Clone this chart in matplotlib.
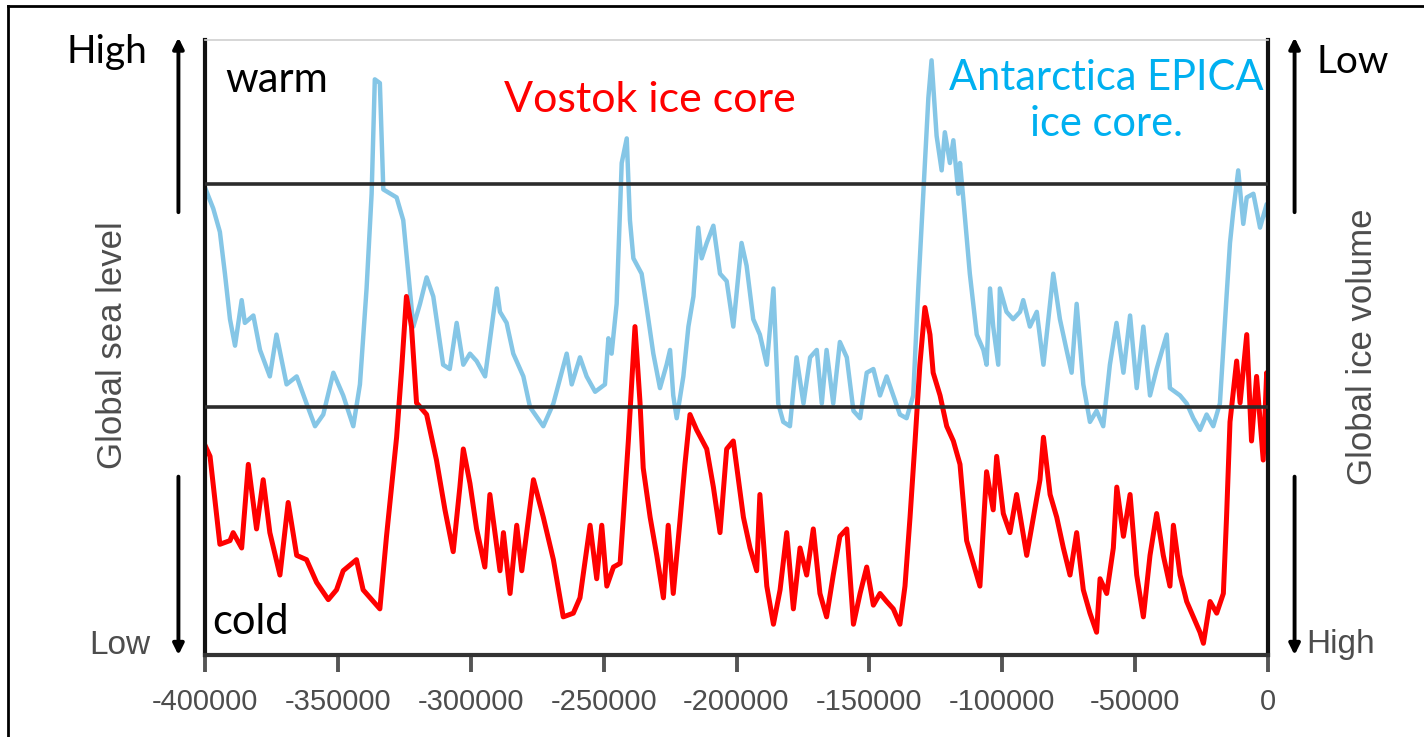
import matplotlib
matplotlib.use("Agg")
import matplotlib.pyplot as plt
from matplotlib.lines import Line2D

plt.rcParams['axes.unicode_minus'] = False

# EPICA (blue) - kyr before present, relative level (0 = axis bottom, 100 = top)
epica_kyr = [-400.0, -396.9, -394.4, -392.5, -390.6, -388.7, -386.2, -385.0, -381.8, -379.3,
             -375.6, -373.1, -369.3, -365.5, -361.8, -358.6, -355.5, -351.7, -348.0, -344.2,
             -341.7, -339.2, -337.3, -336.1, -334.2, -332.9, -327.9, -325.4, -321.6, -319.1,
             -316.6, -314.1, -310.4, -307.9, -305.3, -302.8, -300.3, -297.8, -294.6, -290.2,
             -289.0, -286.5, -284.0, -280.2, -277.7, -272.7, -268.9, -263.9, -262.0, -258.9,
             -256.4, -253.2, -249.5, -248.2, -247.0, -245.1, -243.2, -241.3, -240.1, -238.8,
             -235.7, -233.8, -231.3, -228.8, -226.3, -225.0, -223.8, -222.5, -220.0, -218.1,
             -216.2, -214.4, -213.1, -211.2, -208.7, -206.2, -203.7, -201.2, -198.1, -196.2,
             -193.7, -191.2, -188.6, -186.1, -184.3, -182.4, -179.9, -177.4, -174.8, -172.3,
             -169.8, -167.9, -166.1, -163.6, -161.1, -158.5, -156.0, -153.5, -151.0, -148.5,
             -146.0, -143.5, -141.0, -138.5, -136.0, -133.5, -131.6, -129.7, -127.8, -126.6,
             -124.7, -122.8, -121.6, -119.7, -118.4, -116.5, -115.9, -114.7, -112.2, -109.6,
             -107.1, -105.9, -104.6, -103.4, -101.5, -100.9, -98.4, -95.9, -93.3, -92.1,
             -89.6, -87.0, -84.5, -80.8, -78.3, -75.8, -73.9, -72.0, -69.5, -67.0,
             -64.5, -62.0, -59.5, -57.0, -54.4, -51.9, -49.4, -46.9, -44.4, -41.9,
             -38.1, -36.9, -33.1, -30.6, -28.1, -25.6, -23.1, -20.6, -18.1, -15.6,
             -14.3, -13.1, -11.2, -9.3, -8.0, -5.5, -3.0, -0.5, 0.0]
epica_val = [76.0, 72.6, 68.8, 62.0, 54.6, 50.3, 57.7, 54.0, 55.2, 49.6,
             45.3, 52.1, 44.0, 45.3, 40.9, 37.2, 39.1, 45.9, 42.2, 37.2,
             44.0, 59.6, 75.0, 93.6, 93.0, 75.7, 74.4, 70.7, 53.4, 57.1,
             61.4, 58.3, 47.2, 46.5, 54.0, 47.2, 49.0, 47.8, 45.3, 59.6,
             55.8, 54.0, 49.0, 45.3, 40.3, 37.2, 40.9, 49.0, 44.0, 48.4,
             45.3, 42.8, 44.0, 51.5, 49.0, 57.1, 80.0, 84.0, 70.7, 64.5,
             62.0, 56.5, 49.0, 43.4, 47.2, 49.6, 42.2, 38.5, 45.3, 53.4,
             58.3, 69.5, 64.5, 67.0, 69.8, 62.0, 60.8, 53.4, 67.0, 63.3,
             54.6, 52.1, 47.2, 59.6, 40.9, 37.9, 37.2, 48.4, 40.9, 48.4,
             49.6, 40.9, 49.6, 40.9, 50.9, 48.4, 39.7, 38.5, 45.9, 46.5,
             42.2, 45.3, 42.2, 39.1, 38.5, 42.2, 59.6, 75.0, 90.6, 96.7,
             84.4, 78.8, 85.0, 80.0, 83.7, 75.0, 80.0, 74.4, 62.0, 52.1,
             49.6, 47.2, 59.6, 53.4, 47.2, 59.6, 55.8, 54.6, 55.8, 57.7,
             53.4, 55.8, 47.2, 62.0, 54.6, 49.6, 45.9, 57.1, 44.0, 37.9,
             39.7, 37.2, 47.2, 54.0, 45.9, 55.2, 43.4, 53.4, 42.2, 46.5,
             52.1, 43.4, 42.2, 40.9, 38.5, 36.6, 39.1, 37.2, 40.9, 58.3,
             67.0, 72.0, 78.8, 70.1, 74.4, 75.0, 69.5, 73.3, 71.0]

# Vostok (red)
vostok_kyr = [-400.0, -398.1, -394.4, -390.6, -389.4, -386.2, -383.7, -380.6, -378.1, -375.6,
              -371.8, -368.7, -365.5, -361.8, -358.0, -353.6, -350.5, -348.0, -343.0, -340.5,
              -334.2, -331.7, -327.9, -326.0, -324.2, -322.3, -320.4, -316.6, -312.9, -309.7,
              -306.6, -304.1, -302.8, -300.3, -297.8, -294.7, -292.8, -289.0, -287.7, -285.2,
              -282.7, -280.8, -276.4, -272.7, -268.9, -265.2, -261.4, -258.9, -255.1, -252.6,
              -250.7, -248.8, -246.3, -243.8, -242.6, -240.7, -238.2, -236.3, -235.1, -232.5,
              -230.0, -227.5, -225.7, -223.8, -221.3, -219.4, -217.5, -215.0, -211.2, -208.7,
              -206.2, -203.7, -201.2, -197.4, -194.9, -192.4, -191.2, -188.6, -186.1, -183.6,
              -181.1, -178.6, -176.1, -173.6, -171.1, -168.6, -166.1, -163.6, -161.1, -158.5,
              -156.0, -153.5, -151.0, -148.5, -146.0, -143.5, -141.0, -138.5, -136.6, -134.7,
              -132.8, -131.0, -129.1, -127.2, -126.0, -123.4, -120.9, -118.4, -115.9, -113.4,
              -110.9, -108.4, -105.9, -103.4, -102.1, -99.6, -97.1, -94.6, -90.8, -88.3,
              -85.8, -84.5, -82.0, -79.5, -77.0, -74.5, -72.0, -69.5, -67.0, -64.5,
              -63.2, -60.7, -58.2, -56.9, -54.4, -51.9, -49.4, -46.9, -44.4, -41.9,
              -39.4, -36.9, -35.6, -33.1, -30.6, -28.1, -25.6, -24.3, -21.8, -19.3,
              -16.8, -15.6, -14.3, -11.8, -10.5, -8.0, -6.2, -4.3, -1.8, -0.5, 0.0]
vostok_val = [34.1, 32.3, 18.0, 18.6, 19.9, 17.4, 31.0, 20.5, 28.5, 19.9,
              13.0, 24.8, 16.2, 15.5, 11.8, 9.0, 10.6, 13.7, 15.5, 10.6,
              7.5, 19.3, 35.4, 46.5, 58.3, 53.4, 41.0, 39.1, 31.7, 23.6,
              16.8, 27.3, 33.5, 27.9, 20.5, 14.3, 26.1, 13.7, 19.9, 10.0,
              21.1, 13.7, 28.5, 22.4, 15.5, 6.2, 6.8, 9.3, 21.1, 12.4,
              21.1, 11.2, 14.3, 14.9, 22.4, 34.8, 53.4, 41.0, 30.4, 22.4,
              16.2, 9.3, 21.1, 10.0, 21.7, 31.0, 39.1, 36.6, 33.5, 27.3,
              19.9, 33.5, 34.8, 22.4, 17.4, 13.7, 26.1, 11.2, 5.0, 10.6,
              19.9, 7.5, 17.4, 13.0, 20.5, 10.0, 6.2, 13.0, 19.3, 20.5,
              5.0, 10.0, 14.3, 8.1, 10.0, 8.7, 7.5, 5.0, 11.2, 22.4,
              34.8, 47.2, 56.5, 52.1, 45.9, 42.2, 37.2, 34.8, 31.0, 18.6,
              14.9, 11.2, 29.8, 23.6, 32.3, 23.0, 19.9, 26.1, 16.2, 22.4,
              28.5, 35.4, 26.1, 22.4, 17.4, 13.0, 19.9, 10.6, 6.8, 3.7,
              12.4, 10.0, 17.4, 27.3, 19.3, 26.1, 13.0, 6.2, 16.2, 23.0,
              16.2, 11.2, 21.1, 13.0, 8.7, 6.2, 3.7, 1.9, 8.7, 6.8,
              10.0, 22.4, 37.9, 47.8, 41.0, 52.1, 34.8, 45.3, 31.7, 45.9, 36.0]

ref_levels = [76.6, 40.3]
xticks = [-400000, -350000, -300000, -250000, -200000, -150000, -100000, -50000, 0]

W, H = 1424, 737
fig = plt.figure(figsize=(W / 100, H / 100), dpi=100)
ax = fig.add_axes([205 / W, 1 - 655 / H, 1063 / W, 615 / H])

ax.plot([k * 1000 for k in epica_kyr], epica_val, color='#85c6e6', lw=3.2, solid_joinstyle='round')
ax.plot([k * 1000 for k in vostok_kyr], vostok_val, color='#ff0000', lw=3.6, solid_joinstyle='round')
for lv in ref_levels:
    ax.axhline(lv, color='#2b2b2b', lw=2.6, zorder=3)

ax.set_xlim(-400000, 0)
ax.set_ylim(0, 100)
ax.set_yticks([])
ax.set_xticks(xticks)
ax.set_xticklabels([str(t) for t in xticks], fontfamily='Liberation Sans', fontsize=21, color='#4d4d4d')
ax.tick_params(axis='x', direction='out', length=12, width=2.8, color='#555555', pad=12)

ax.spines['top'].set_color('#d0d0d0')
ax.spines['top'].set_linewidth(1.2)
for s in ['left', 'right']:
    ax.spines[s].set_color('#111111')
    ax.spines[s].set_linewidth(3)
ax.spines['bottom'].set_color('#333333')
ax.spines['bottom'].set_linewidth(3)

# arrows beside the axes
arrow = dict(arrowstyle='-|>', lw=2.8, color='black', mutation_scale=16, shrinkA=0, shrinkB=0)
for xa in [-0.025, 1.025]:
    ax.annotate('', xy=(xa, 1.004), xytext=(xa, 0.72), xycoords='axes fraction', arrowprops=arrow)
    ax.annotate('', xy=(xa, 0.0), xytext=(xa, 0.29), xycoords='axes fraction', arrowprops=arrow)


def fx(px):
    return px / W


def fy(py):
    return 1 - py / H


cal = 'Lato'
fig.text(fx(66), fy(52), 'High', fontfamily=cal, fontsize=28, va='center', ha='left')
fig.text(fx(225), fy(80), 'warm', fontfamily=cal, fontsize=30, va='center', ha='left')
fig.text(fx(212), fy(622), 'cold', fontfamily=cal, fontsize=30, va='center', ha='left')
fig.text(fx(504), fy(100), 'Vostok ice core', fontfamily=cal, fontsize=31, color='#ff0000', va='center', ha='left')
fig.text(fx(1106), fy(101), 'Antarctica EPICA\nice core.', fontfamily=cal, fontsize=30, color='#00b0f0',
         va='center', ha='center', linespacing=1.25)
fig.text(fx(1316), fy(62), 'Low', fontfamily=cal, fontsize=28, va='center', ha='left')

arial = 'Liberation Sans'
fig.text(fx(89), fy(645), 'Low', fontfamily=arial, fontsize=24, color='#4d4d4d', va='center', ha='left')
fig.text(fx(1306), fy(645), 'High', fontfamily=arial, fontsize=24, color='#4d4d4d', va='center', ha='left')
fig.text(fx(113), fy(345), 'Global sea level', fontfamily=arial, fontsize=25, color='#4d4d4d',
         rotation=90, va='center', ha='center')
fig.text(fx(1362), fy(347), 'Global ice volume', fontfamily=arial, fontsize=25, color='#4d4d4d',
         rotation=90, va='center', ha='center')

# frame around the slide
fig.add_artist(Line2D([fx(8), fx(8)], [fy(6), 0], color='black', lw=2))
fig.add_artist(Line2D([fx(8), 1], [fy(6), fy(6)], color='black', lw=2))

fig.savefig('out.png', dpi=100)
